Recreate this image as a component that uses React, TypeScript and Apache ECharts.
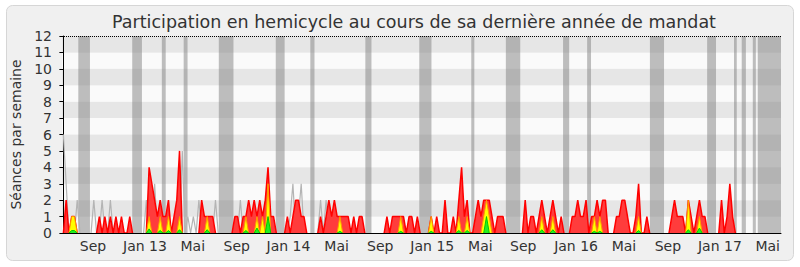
import React, { useEffect, useRef } from "react";
import * as echarts from "echarts";

// Weekly values (week index 0 = early June 2012)
const presences = [
  0, 2, 0, 1, 1, 0, 0, 0, 0, 0,
  0, 0, 0, 1, 0, 1, 0, 1, 0, 1,
  0, 1, 0, 0, 1, 0, 0, 0, 0, 0,
  0, 4, 3, 2, 1, 2, 1, 1, 2, 0,
  1, 2, 5, 0, 0, 0, 0, 0, 0, 0,
  2, 1, 1, 1, 1, 0, 0, 0, 0, 0,
  0, 0, 1, 1, 0, 1, 1, 2, 1, 2,
  1, 2, 1, 2, 4, 1, 1, 0, 0, 0,
  0, 1, 0, 1, 2, 2, 1, 1, 0, 0,
  0, 0, 0, 1, 0, 1, 2, 1, 2, 1,
  1, 1, 1, 1, 0, 1, 0, 1, 1, 0,
  0, 0, 0, 0, 0, 0, 0, 1, 0, 1,
  1, 1, 1, 1, 0, 1, 1, 0, 1, 0,
  0, 0, 0, 1, 0, 1, 0, 0, 2, 0,
  0, 1, 0, 2, 4, 1, 2, 0, 0, 1,
  2, 1, 2, 2, 2, 1, 0, 1, 1, 1,
  0, 0, 0, 0, 0, 0, 0, 2, 0, 1,
  1, 0, 1, 2, 1, 0, 1, 2, 1, 0,
  1, 0, 0, 0, 1, 1, 2, 1, 1, 2,
  0, 1, 1, 2, 1, 2, 2, 0, 0, 0,
  1, 1, 2, 2, 1, 0, 0, 1, 3, 0,
  0, 1, 0, 0, 0, 0, 0, 0, 0, 0,
  1, 2, 1, 1, 1, 0, 2, 1, 0, 1,
  2, 1, 1, 0, 0, 0, 0, 0, 2, 0,
  1, 3, 1, 0, 0, 0, 0, 0, 0, 0,
  0, 0, 0, 0, 0, 0, 0, 0, 0, 0,
];

const interventions = [
  0, 0, 0, 1, 1, 0, 0, 0, 0, 0,
  0, 0, 0, 0, 0, 0, 0, 0, 0, 0,
  0, 0, 0, 0, 0, 0, 0, 0, 0, 0,
  0, 1, 0, 0, 0, 1, 0, 0, 1, 0,
  0, 0, 1, 0, 0, 0, 0, 0, 0, 0,
  0, 0, 1, 0, 0, 0, 0, 0, 0, 0,
  0, 0, 0, 0, 0, 0, 1, 0, 0, 0,
  1, 0, 1, 0, 3, 0, 0, 0, 0, 0,
  0, 0, 0, 0, 0, 0, 0, 0, 0, 0,
  0, 0, 0, 0, 0, 0, 0, 0, 0, 0,
  1, 0, 0, 0, 0, 0, 0, 0, 0, 0,
  0, 0, 0, 0, 0, 0, 0, 0, 0, 0,
  0, 0, 1, 0, 0, 0, 0, 0, 0, 0,
  0, 0, 0, 1, 0, 0, 0, 0, 0, 0,
  0, 0, 0, 1, 0, 0, 1, 0, 0, 0,
  0, 0, 1, 2, 1, 0, 0, 0, 0, 0,
  0, 0, 0, 0, 0, 0, 0, 0, 0, 0,
  0, 0, 0, 1, 0, 0, 0, 1, 0, 0,
  0, 0, 0, 0, 0, 0, 0, 0, 0, 0,
  0, 0, 1, 0, 1, 0, 0, 0, 0, 0,
  0, 0, 0, 0, 0, 0, 0, 0, 1, 0,
  0, 0, 0, 0, 0, 0, 0, 0, 0, 0,
  0, 0, 0, 0, 0, 0, 2, 0, 0, 0,
  1, 0, 0, 0, 0, 0, 0, 0, 0, 0,
  0, 0, 0, 0, 0, 0, 0, 0, 0, 0,
  0, 0, 0, 0, 0, 0, 0, 0, 0, 0,
];

const questions = [
  0, 0, 0, 0.15, 0.15, 0, 0, 0, 0, 0,
  0, 0, 0, 0, 0, 0, 0, 0, 0, 0,
  0, 0, 0, 0, 0, 0, 0, 0, 0, 0,
  0, 0.25, 0, 0, 0, 0.15, 0, 0, 0.15, 0,
  0, 0, 0.2, 0, 0, 0, 0, 0, 0, 0,
  0, 0, 0.2, 0, 0, 0, 0, 0, 0, 0,
  0, 0, 0, 0, 0, 0, 0.15, 0, 0, 0,
  0.3, 0, 0, 0, 1, 0, 0, 0, 0, 0,
  0, 0, 0, 0, 0, 0, 0, 0, 0, 0,
  0, 0, 0, 0, 0, 0, 0, 0, 0, 0,
  0.1, 0, 0, 0, 0, 0, 0, 0, 0, 0,
  0, 0, 0, 0, 0, 0, 0, 0, 0, 0,
  0, 0, 0.1, 0, 0, 0, 0, 0, 0, 0,
  0, 0, 0, 0.1, 0, 0, 0, 0, 0, 0,
  0, 0, 0, 0.15, 0, 0, 0.15, 0, 0, 0,
  0, 0, 0, 1, 0, 0, 0, 0, 0, 0,
  0, 0, 0, 0, 0, 0, 0, 0, 0, 0,
  0, 0, 0, 0.2, 0, 0, 0, 0.2, 0, 0,
  0, 0, 0, 0, 0, 0, 0, 0, 0, 0,
  0, 0, 0.1, 0, 0.1, 0, 0, 0, 0, 0,
  0, 0, 0, 0, 0, 0, 0, 0, 0.15, 0,
  0, 0, 0, 0, 0, 0, 0, 0, 0, 0,
  0, 0, 0, 0, 0, 0, 0.2, 0, 0, 0,
  0.3, 0, 0, 0, 0, 0, 0, 0, 0, 0,
  0, 0, 0, 0, 0, 0, 0, 0, 0, 0,
  0, 0, 0, 0, 0, 0, 0, 0, 0, 0,
];

const mediane = [
  6, 3, 0, 0, 0, 2, 0, 0, 0, 0,
  0, 2, 0, 0, 2, 0, 0, 2, 0, 0,
  0, 0, 0, 0, 0, 0, 0, 0, 0, 0,
  2, 0, 0, 3, 0, 0, 0, 0, 0, 0,
  0, 0, 0, 5, 0, 1, 0, 1, 0, 2,
  0, 0, 0, 0, 0, 2, 0, 0, 0, 0,
  0, 0, 0, 0, 2, 0, 0, 0, 0, 0,
  0, 0, 0, 0, 0, 0, 0, 0, 0, 0,
  0, 0, 1, 3, 0, 1, 3, 0, 0, 0,
  0, 0, 0, 2, 0, 2, 0, 0, 0, 0,
  0, 0, 0, 0, 0, 0, 0, 0, 0, 0,
  0, 0, 0, 0, 0, 0, 0, 0, 0, 0,
  0, 0, 0, 0, 0, 0, 0, 0, 0, 0,
  0, 0, 0, 0, 0, 0, 0, 0, 0, 0,
  0, 0, 0, 0, 0, 0, 0, 0, 0, 0,
  0, 0, 0, 0, 0, 0, 0, 0, 0, 0,
  0, 0, 0, 0, 0, 0, 0, 0, 0, 0,
  0, 0, 0, 0, 0, 0, 0, 0, 0, 0,
  0, 0, 0, 0, 0, 0, 0, 0, 0, 0,
  0, 0, 0, 0, 0, 0, 0, 0, 0, 0,
  0, 0, 0, 0, 0, 0, 0, 0, 0, 0,
  0, 0, 0, 0, 0, 0, 0, 0, 0, 0,
  0, 0, 0, 0, 0, 0, 0, 0, 0, 0,
  0, 0, 0, 0, 0, 0, 0, 0, 0, 0,
  0, 0, 0, 0, 0, 0, 0, 0, 0, 0,
  0, 0, 0, 0, 0, 0, 0, 0, 0, 0,
];

// Vacation periods (in week units)
const vacStart = [5.4, 24.9, 35.6, 43.5, 56.2, 76.8, 89.3, 109.2, 128.7, 147.5, 160.0, 180.7, 189.4, 212.1, 232.8, 242.5, 245.3, 249.3, 251.1];
const vacEnd = [9.6, 28.4, 37.0, 44.9, 61.5, 80.0, 90.8, 111.4, 133.1, 148.6, 165.2, 182.9, 190.8, 217.2, 236.0, 243.5, 246.8, 250.4, 259.5];

// Month tick labels (in week units)
const tickWeeks = [10.7, 29.5, 46.8, 62.7, 81.4, 98.8, 114.6, 133.4, 150.8, 166.3, 185.4, 202.7, 218.6, 237.4, 254.7];
const tickLabels = ["Sep", "Jan 13", "Mai", "Sep", "Jan 14", "Mai", "Sep", "Jan 15", "Mai", "Sep", "Jan 16", "Mai", "Sep", "Jan 17", "Mai"];

const yTicks = [0, 12];

const FONT = "DejaVu Sans";

export default function App() {
  const ref = useRef<HTMLDivElement>(null);
  useEffect(() => {
    if (!ref.current) return;
    const chart = echarts.init(ref.current, undefined, { renderer: "svg" });
    // drop long runs of zeros so no line is drawn along the baseline
    const pairs = (arr: number[]) =>
      arr.map((v, i) => {
        const prev = i > 0 ? arr[i - 1] : 0;
        const next = i < arr.length - 1 ? arr[i + 1] : 0;
        return [i, v === 0 && prev === 0 && next === 0 ? "-" : v];
      });
    const option: any = {
      animation: false,
      backgroundColor: "#ffffff",
      textStyle: { fontFamily: FONT },
      graphic: [
        {
          type: "rect",
          z: -10,
          silent: true,
          shape: { x: 6.5, y: 5.5, width: 787, height: 255, r: 6 },
          style: { fill: "#f0f0f0", stroke: "#d6d6d6", lineWidth: 1 },
        },
      ],
      title: {
        text: "Participation en hemicycle au cours de sa dernière année de mandat",
        left: 409,
        top: 8,
        textAlign: "center",
        textStyle: { fontFamily: FONT, fontSize: 17.5, fontWeight: "normal", color: "#333333" },
      },
      grid: { left: 62, top: 36, width: 719, height: 197, containLabel: false },
      xAxis: {
        type: "value",
        min: -0.5,
        max: 259.5,
        z: 10,
        axisLine: { show: true, lineStyle: { color: "#000000", width: 1 } },
        axisTick: { show: false },
        splitLine: { show: false },
        axisLabel: {
          customValues: tickWeeks,
          margin: 6,
          fontSize: 14,
          fontFamily: FONT,
          color: "#333333",
          formatter: (v: number) => {
            const k = tickWeeks.findIndex((t) => Math.abs(t - v) < 1e-6);
            return k >= 0 ? tickLabels[k] : "";
          },
        },
      },
      yAxis: {
        type: "value",
        min: yTicks[0],
        max: yTicks[1],
        interval: 1,
        name: "Séances par semaine",
        nameLocation: "middle",
        nameGap: 37,
        nameTextStyle: { fontFamily: FONT, fontSize: 14, color: "#333333" },
        axisLine: { show: true, lineStyle: { color: "#000000", width: 1 } },
        axisTick: { show: true, length: 4, lineStyle: { color: "#000000" } },
        axisLabel: { fontSize: 14, fontFamily: FONT, color: "#333333", margin: 10 },
        splitLine: { show: false },
        splitArea: { show: true, areaStyle: { color: ["#fafafa", "#e6e6e6"] } },
      },
      series: [
        {
          type: "line",
          name: "médiane",
          data: pairs(mediane),
          symbol: "none",
          z: 2,
          silent: true,
          lineStyle: { color: "#b4b4b4", width: 1.2 },
          markArea: {
            silent: true,
            itemStyle: { color: "rgba(128,128,128,0.5)" },
            data: vacStart.map((s, k) => [{ xAxis: s }, { xAxis: vacEnd[k] }]),
          },
        },
        {
          type: "line",
          name: "présences",
          data: pairs(presences),
          symbol: "none",
          z: 3,
          silent: true,
          lineStyle: { color: "#ff0000", width: 1.5 },
          areaStyle: { color: "#ff3c3c", opacity: 1 },
          markLine: {
            silent: true,
            symbol: ["none", "none"],
            label: { show: false },
            lineStyle: { type: "dotted", color: "#000000", width: 1 },
            data: [{ yAxis: 12 }],
          },
        },
        {
          type: "line",
          name: "interventions",
          data: pairs(interventions),
          symbol: "none",
          z: 4,
          silent: true,
          lineStyle: { color: "#ff9900", width: 1 },
          areaStyle: { color: "#ffff00", opacity: 1 },
        },
        {
          type: "line",
          name: "questions",
          data: pairs(questions),
          symbol: "none",
          z: 5,
          silent: true,
          lineStyle: { color: "#00cc00", width: 1 },
          areaStyle: { color: "#22ee22", opacity: 1 },
        },
      ],
    };
    chart.setOption(option);
    return () => chart.dispose();
  }, []);
  return <div ref={ref} style={{ position: "fixed", left: 0, top: 0, width: 800, height: 267 }} />;
}
